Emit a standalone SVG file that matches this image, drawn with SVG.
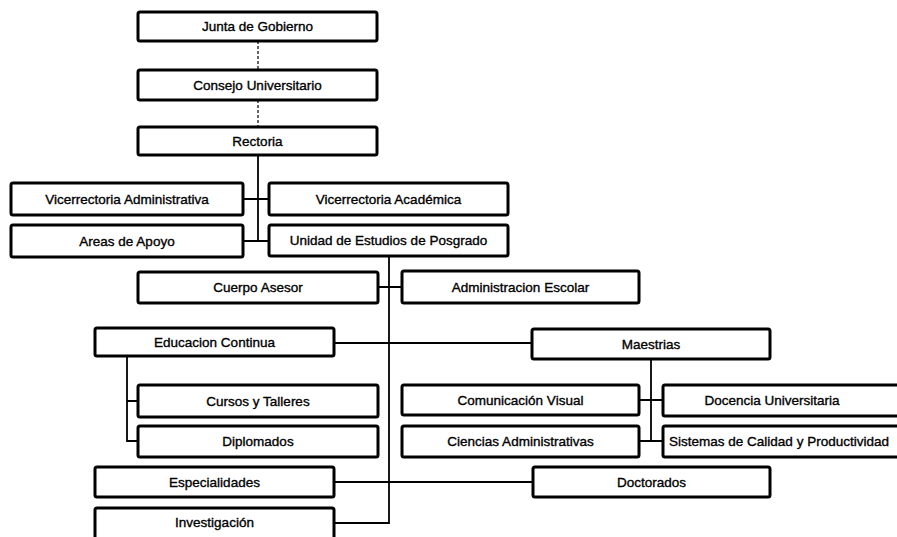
<svg xmlns="http://www.w3.org/2000/svg" width="897" height="537" viewBox="0 0 897 537">
<style>
.box{fill:#fff;stroke:#000;stroke-width:3;rx:2;}
.t{font-family:"Liberation Sans",Arial,sans-serif;font-size:13.5px;fill:#000;stroke:#000;stroke-width:0.35;text-anchor:middle;}
.c{stroke:#000;stroke-width:1.8;fill:none;}
.d{stroke:#000;stroke-width:1.2;fill:none;stroke-dasharray:3 2;}
</style>
<rect width="897" height="537" fill="#fff"/>
<g id="connectors">
<path class="d" d="M258 41V70M258 100V127"/>
<path class="c" d="M258 155V241M243 199H269M243 241H269"/>
<path class="c" d="M389 257V523H334M378 287H402M334 343H532M334 482H533"/>
<path class="c" d="M127 356V441H138M127 401H138"/>
<path class="c" d="M651 359V441M639 400H663M639 441H663"/>
</g>
<g id="junta"><rect class="box" x="138" y="12" width="239" height="29"/><text class="t" x="257.5" y="31">Junta de Gobierno</text></g>
<g id="consejo"><rect class="box" x="138" y="70" width="239" height="30"/><text class="t" x="257.5" y="89.5">Consejo Universitario</text></g>
<g id="rectoria"><rect class="box" x="138" y="127" width="239" height="28"/><text class="t" x="257.5" y="145.5">Rectoria</text></g>
<g id="viceAdm"><rect class="box" x="11" y="183" width="232" height="32"/><text class="t" x="127" y="203.5">Vicerrectoria Administrativa</text></g>
<g id="viceAcad"><rect class="box" x="269" y="183" width="239" height="32"/><text class="t" x="388.5" y="203.5">Vicerrectoria Académica</text></g>
<g id="areas"><rect class="box" x="11" y="225" width="232" height="32"/><text class="t" x="127" y="245.5">Areas de Apoyo</text></g>
<g id="unidad"><rect class="box" x="269" y="225" width="239" height="31"/><text class="t" x="388.5" y="245">Unidad de Estudios de Posgrado</text></g>
<g id="cuerpo"><rect class="box" x="138" y="272" width="240" height="31"/><text class="t" x="258" y="292">Cuerpo Asesor</text></g>
<g id="adminEsc"><rect class="box" x="402" y="271" width="237" height="32"/><text class="t" x="520.5" y="291.5">Administracion Escolar</text></g>
<g id="educ"><rect class="box" x="95" y="328" width="239" height="28"/><text class="t" x="214.5" y="346.5">Educacion Continua</text></g>
<g id="maestrias"><rect class="box" x="532" y="329" width="238" height="30"/><text class="t" x="651" y="348.5">Maestrias</text></g>
<g id="cursos"><rect class="box" x="138" y="385" width="240" height="32"/><text class="t" x="258" y="405.5">Cursos y Talleres</text></g>
<g id="diplomados"><rect class="box" x="138" y="426" width="240" height="31"/><text class="t" x="258" y="446">Diplomados</text></g>
<g id="comunic"><rect class="box" x="402" y="385" width="237" height="30"/><text class="t" x="520.5" y="404.5">Comunicación Visual</text></g>
<g id="docencia"><rect class="box" x="663" y="385" width="240" height="31"/><text class="t" x="772" y="405">Docencia Universitaria</text></g>
<g id="ciencias"><rect class="box" x="402" y="426" width="237" height="31"/><text class="t" x="520.5" y="446">Ciencias Administrativas</text></g>
<g id="sistemas"><rect class="box" x="663" y="426" width="240" height="31"/><text class="t" x="779" y="446">Sistemas de Calidad y Productividad</text></g>
<g id="especial"><rect class="box" x="95" y="467" width="239" height="30"/><text class="t" x="214.5" y="486.5">Especialidades</text></g>
<g id="doctorados"><rect class="box" x="533" y="467" width="237" height="30"/><text class="t" x="651.5" y="486.5">Doctorados</text></g>
<g id="investig"><rect class="box" x="95" y="508" width="239" height="33"/><text class="t" x="214.5" y="527">Investigación</text></g>
</svg>
